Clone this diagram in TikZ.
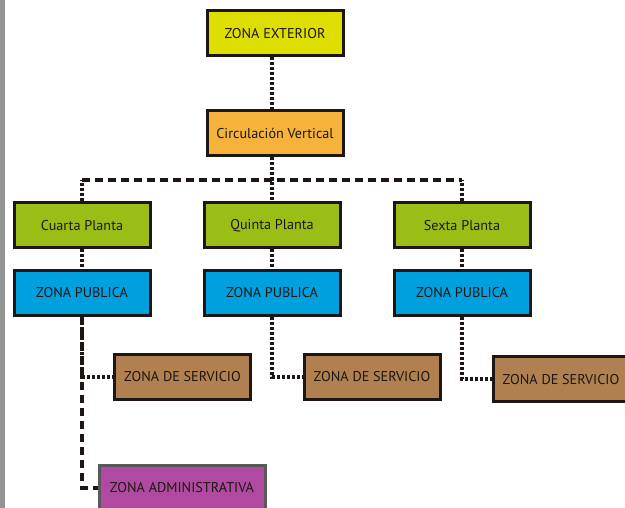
\documentclass[tikz,border=0pt]{standalone}
\usepackage{fontspec}
\setmainfont{PT Sans}
\usetikzlibrary{positioning}

\definecolor{ink}{HTML}{1E1612}
\definecolor{cExt}{HTML}{DEDE00}
\definecolor{cCirc}{HTML}{F5B33B}
\definecolor{cPiso}{HTML}{9BBE16}
\definecolor{cPub}{HTML}{009FDE}
\definecolor{cServ}{HTML}{B08050}
\definecolor{cAdm}{HTML}{B04AA0}

\tikzset{
  zbox/.style={draw=ink,line width=3pt,minimum width=136pt,minimum height=45pt,
    inner sep=0pt,text=ink},
  dotline/.style={draw=ink,line width=4pt,dash pattern=on 3pt off 2pt},
  dashline/.style={draw=ink,line width=4pt,dash pattern=on 8pt off 5pt},
}

\begin{document}
\begin{tikzpicture}[x=1pt,y=-1pt,font=\fontsize{14.2}{16}\selectfont]
  \useasboundingbox (0,0) rectangle (625,508);
  \fill[gray!85!white] (0,0) rectangle (5,508);
  \node[zbox,fill=cExt] (ext) at (275,33.5) {ZONA EXTERIOR};
  \node[zbox,fill=cCirc] (circ) at (275,133.5) {Circulación Vertical};
  \coordinate (bus) at (272,180);
  \node[zbox,fill=cPiso] (p4) at (82,225.5) {Cuarta Planta};
  \node[zbox,fill=cPiso] (p5) at (272,225.5) {Quinta Planta};
  \node[zbox,fill=cPiso] (p6) at (462,225.5) {Sexta Planta};
  \node[zbox,fill=cPub] (pub4) at (82,293) {ZONA PUBLICA};
  \node[zbox,fill=cPub] (pub5) at (272,293) {ZONA PUBLICA};
  \node[zbox,fill=cPub] (pub6) at (462,293) {ZONA PUBLICA};
  \node[zbox,fill=cServ] (serv4) at (182.5,377) {ZONA DE SERVICIO};
  \node[zbox,fill=cServ] (serv5) at (372,377) {ZONA DE SERVICIO};
  \node[zbox,fill=cServ] (serv6) at (561,379.5) {ZONA DE SERVICIO};
  \node[zbox,draw=gray!70!black,fill=cAdm,minimum width=166pt] (adm) at (182,488) {ZONA ADMINISTRATIVA};
  % conectores
  \draw[dotline] (ext.south -| bus) -- (circ.north -| bus);
  \draw[dotline] (circ.south -| bus) -- (bus) -- (p5);
  \draw[dashline] (p4.north |- bus) -- (p6.north |- bus);
  \draw[dotline] (p4) -- (p4.north |- bus);
  \draw[dotline] (p6) -- (p6.north |- bus);
  \foreach \n in {4,5,6}
    \draw[dotline] (p\n) -- (pub\n);
  \draw[dashline] (pub4) |- (adm);
  \draw[dotline] (pub4.south) |- (serv4);
  \draw[dotline] (pub5.south) |- (serv5);
  \draw[dotline] (pub6.south) |- (serv6);
\end{tikzpicture}
\end{document}
